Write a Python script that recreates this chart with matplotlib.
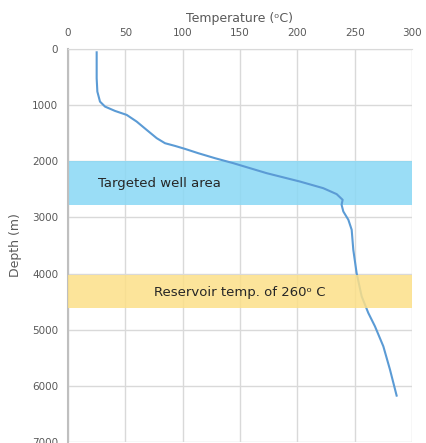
import numpy as np
import matplotlib
matplotlib.use('Agg')
import matplotlib.pyplot as plt

# temperature profile
temp_c = [25, 25, 25.6, 27.9, 32.3, 41, 51.2, 59.9, 68.6, 77.4, 84.6, 93.3, 102,
          113.6, 128.2, 144.2, 173.3, 202.3, 222.6, 234.3, 239.5, 238.6, 240.1,
          244.5, 247.4, 248.8, 251.7, 256.1, 261.9, 267.7, 275, 280.8, 286.6]
depth_m = [59, 522, 759, 937, 1026, 1103, 1174, 1293, 1441, 1589, 1678, 1726, 1779,
           1856, 1945, 2034, 2212, 2361, 2479, 2585, 2686, 2775, 2894,
           3042, 3220, 3576, 3991, 4406, 4702, 4940, 5296, 5711, 6174]

well_band = (2000, 2780)
reservoir_band = (4030, 4620)

grey = '#595959'

fig = plt.figure(figsize=(4.27, 4.43), dpi=100)
ax = fig.add_axes([68/427, 1 - 442/443, (412 - 68)/427, (442 - 49)/443])

ax.plot(temp_c, depth_m, color='#5B9BD5', lw=1.5, zorder=3,
        solid_joinstyle='round')

# blue band sits under the line, yellow one over it (line looks green there)
ax.axhspan(*well_band, color='#89D8F5', alpha=0.85, lw=0, zorder=2)
ax.axhspan(*reservoir_band, color='#FCE088', alpha=0.85, lw=0, zorder=4)

ax.text(26, 2390, 'Targeted well area', fontsize=9.5, color='#262626',
        va='center', ha='left', zorder=5)
ax.text(150, 4330, 'Reservoir temp. of 260\u1d52 C', fontsize=9.5, color='#262626',
        va='center', ha='center', zorder=5)

ax.set_xlim(0, 300)
ax.set_ylim(7000, 0)
ax.set_xticks(np.arange(0, 301, 50))
ax.set_yticks(np.arange(0, 7001, 1000))
ax.xaxis.tick_top()
ax.xaxis.set_label_position('top')
ax.tick_params(length=0, labelsize=7.5, labelcolor=grey)
ax.tick_params(axis='x', pad=8)
ax.tick_params(axis='y', pad=7)
ax.set_xlabel('Temperature (\u1d52C)', fontsize=9, color=grey, labelpad=4)
ax.set_ylabel('Depth (m)', fontsize=9, color=grey, labelpad=7)

ax.grid(True, color='#d9d9d9', lw=1)
ax.set_axisbelow(True)
for s in ['right', 'bottom']:
    ax.spines[s].set_visible(False)
ax.spines['top'].set_color('#d9d9d9')
ax.spines['left'].set_color('#bfbfbf')
ax.spines['left'].set_linewidth(1.5)

fig.savefig('out.png', dpi=100)
